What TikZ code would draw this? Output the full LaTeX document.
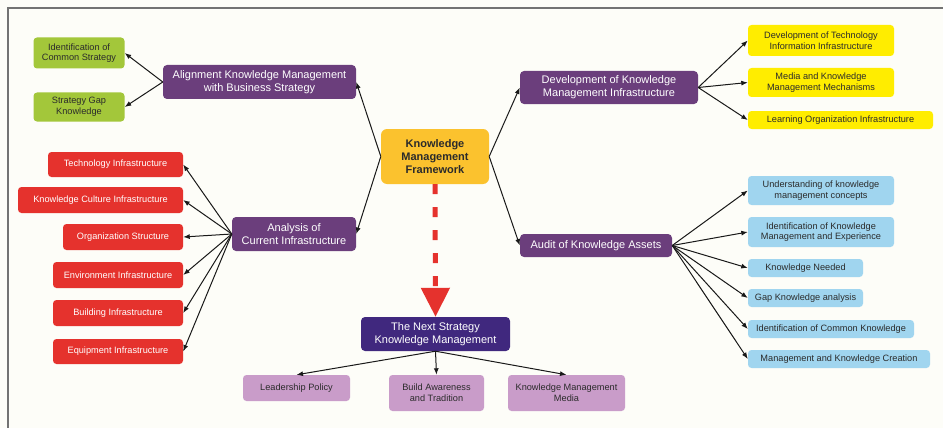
\documentclass[tikz,border=0pt]{standalone}
\usepackage{fontspec}
\setmainfont{Liberation Sans}
\usetikzlibrary{arrows.meta}

\definecolor{paper}{HTML}{FDFDF8}
\definecolor{hubcol}{HTML}{FBC22E}
\definecolor{plumcol}{HTML}{6B3E7C}
\definecolor{indigocol}{HTML}{40287E}
\definecolor{redcol}{HTML}{E5322D}
\definecolor{greencol}{HTML}{A3C73A}
\definecolor{yellowcol}{HTML}{FFED00}
\definecolor{bluecol}{HTML}{A0D5EF}
\definecolor{pinkcol}{HTML}{C99CC9}
\definecolor{inkcol}{HTML}{2B2B2B}

\begin{document}
\begin{tikzpicture}[x=1pt,y=-1pt]

\tikzset{wh/.style 2 args = {minimum width=#1pt,minimum height=#2pt}}
\tikzset{hub/.style = {shape=rectangle,rounded corners=6pt,fill=hubcol,text=inkcol,inner sep=0pt,align=center,font=\fontsize{11pt}{12.6pt}\selectfont\bfseries}}
\tikzset{branch/.style = {shape=rectangle,rounded corners=4pt,fill=plumcol,text=white,inner sep=0pt,align=center,font=\fontsize{11pt}{12.7pt}\selectfont}}
\tikzset{leaf/.style = {shape=rectangle,rounded corners=3.5pt,text=inkcol,inner sep=0pt,align=center,font=\fontsize{9.2pt}{10.7pt}\selectfont}}
\tikzset{edge/.style = {->,> = {Latex[length=6.5pt,width=5pt]},line width=1pt,black!90}}
\tikzset{bigdash/.style = {-{Triangle[length=29pt,width=28pt]},line width=5pt,redcol,dash pattern=on 10pt off 13pt}}

\useasboundingbox (0,0) rectangle (943,428);
\fill[paper] (0,0) rectangle (943,428);
\draw[black!55,line width=1.4pt] (943,8) -- (8,8) -- (8,428);

% centre
\node[hub,wh={108}{55}] (KMF) at (435,156.5) {Knowledge\\Management\\Framework};

% branches
\node[branch,wh={193}{34}] (Align) at (259.5,82) {Alignment Knowledge Management\\with Business Strategy};
\node[branch,wh={124}{34}] (Analysis) at (294,234) {Analysis of\\Current Infrastructure};
\node[branch,wh={178}{33}] (DevKM) at (609,87.5) {Development of Knowledge\\Management Infrastructure};
\node[branch,wh={152}{23}] (Audit) at (596,245.5) {Audit of Knowledge Assets};
\node[branch,wh={149}{34},fill=indigocol] (Next) at (435.5,334) {The Next Strategy\\Knowledge Management};

% alignment leaves
\node[leaf,wh={91}{31},fill=greencol] (CommonStrategy) at (79,53) {Identification of\\Common Strategy};
\node[leaf,wh={91}{29},fill=greencol] (StrategyGap) at (79,107) {Strategy Gap\\Knowledge};

% analysis leaves
\node[leaf,wh={135}{25},fill=redcol,text=white] (TechInfra) at (115.5,164.5) {Technology Infrastructure};
\node[leaf,wh={165}{26},fill=redcol,text=white] (CultureInfra) at (100.5,200) {Knowledge Culture Infrastructure};
\node[leaf,wh={120}{26},fill=redcol,text=white] (OrgStruct) at (123,237) {Organization Structure};
\node[leaf,wh={130}{26},fill=redcol,text=white] (EnvInfra) at (118,275) {Environment Infrastructure};
\node[leaf,wh={130}{26},fill=redcol,text=white] (BuildInfra) at (118,313) {Building Infrastructure};
\node[leaf,wh={130}{25},fill=redcol,text=white] (EquipInfra) at (118,351.5) {Equipment Infrastructure};

% development leaves
\node[leaf,wh={146}{31},fill=yellowcol] (TechInfo) at (821,40.5) {Development of Technology\\Information Infrastructure};
\node[leaf,wh={146}{29},fill=yellowcol] (Mechanisms) at (821,82.5) {Media and Knowledge\\Management Mechanisms};
\node[leaf,wh={185}{18},fill=yellowcol] (LearningOrg) at (840.5,120) {Learning Organization Infrastructure};

% audit leaves
\node[leaf,wh={146}{29},fill=bluecol] (Concepts) at (821,190.5) {Understanding of knowledge\\management concepts};
\node[leaf,wh={146}{30},fill=bluecol] (Experience) at (821,232) {Identification of Knowledge\\Management and Experience};
\node[leaf,wh={115}{18},fill=bluecol] (Needed) at (805.5,268) {Knowledge Needed};
\node[leaf,wh={115}{18},fill=bluecol] (GapAnalysis) at (805.5,298) {Gap Knowledge analysis};
\node[leaf,wh={166}{18},fill=bluecol] (CommonKnow) at (831,329) {Identification of Common Knowledge};
\node[leaf,wh={182}{18},fill=bluecol] (Creation) at (839,359) {Management and Knowledge Creation};

% next strategy leaves
\node[leaf,wh={107}{26},fill=pinkcol] (Leadership) at (296.5,388) {Leadership Policy};
\node[leaf,wh={95}{36},fill=pinkcol] (Awareness) at (436.5,393) {Build Awareness\\and Tradition};
\node[leaf,wh={117}{36},fill=pinkcol] (Media) at (566.5,393) {Knowledge Management\\Media};

%edges
\draw[edge] (KMF.west) -- (Align.east);
\draw[edge] (KMF.west) -- (Analysis.east);
\draw[edge] (KMF.east) -- (DevKM.west);
\draw[edge] (KMF.east) -- (Audit.west);
\draw[bigdash] (KMF.south) -- (Next.north);

\draw[edge] (Align.west) -- (CommonStrategy.east);
\draw[edge] (Align.west) -- (StrategyGap.east);

\draw[edge] (Analysis.west) -- (TechInfra.east);
\draw[edge] (Analysis.west) -- (CultureInfra.east);
\draw[edge] (Analysis.west) -- (OrgStruct.east);
\draw[edge] (Analysis.west) -- (EnvInfra.east);
\draw[edge] (Analysis.west) -- (BuildInfra.east);
\draw[edge] (Analysis.west) -- (EquipInfra.east);

\draw[edge] (DevKM.east) -- (TechInfo.west);
\draw[edge] (DevKM.east) -- (Mechanisms.west);
\draw[edge] (DevKM.east) -- (LearningOrg.west);

\draw[edge] (Audit.east) -- (Concepts.west);
\draw[edge] (Audit.east) -- (Experience.west);
\draw[edge] (Audit.east) -- (Needed.west);
\draw[edge] (Audit.east) -- (GapAnalysis.west);
\draw[edge] (Audit.east) -- (CommonKnow.west);
\draw[edge] (Audit.east) -- (Creation.west);

\draw[edge] (Next.south) -- (Leadership.north);
\draw[edge] (Next.south) -- (Awareness.north);
\draw[edge] (Next.south) -- (Media.north);
\end{tikzpicture}
\end{document}
